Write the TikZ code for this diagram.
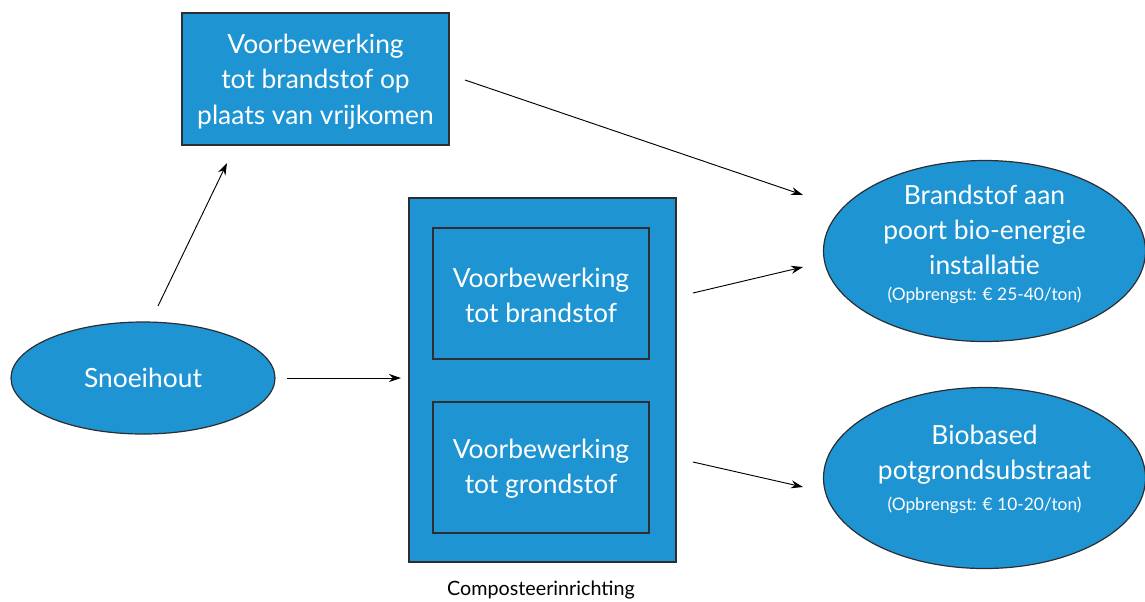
\documentclass[tikz,border=0pt]{standalone}
\usepackage{fontspec}
\setmainfont{Lato}
\usetikzlibrary{shapes.geometric,arrows.meta}
\definecolor{fillblue}{RGB}{30,148,210}
\definecolor{edge}{RGB}{45,45,50}
\begin{document}
\begin{tikzpicture}[x=0.75pt,y=-0.75pt,
  blk/.style={draw=edge,line width=1pt,fill=fillblue},
  ell/.style={draw=edge,line width=0.9pt,fill=fillblue,ellipse,inner sep=0pt},
  lbl/.style={text=white,align=center,font=\fontsize{19.8}{26.5}\selectfont},
  small/.style={text=white,font=\fontsize{13}{14}\selectfont},
  arr/.style={draw=black,line width=0.7pt,-{Stealth[length=9pt,width=6pt]}}]
\useasboundingbox (0,0) rectangle (1145,601);
% top box
\node[blk,minimum width=267*0.75pt,minimum height=132*0.75pt] (top) at (315.5,79) {};
\node[lbl] at ([yshift=-2pt]top.center) {Voorbewerking\\tot brandstof op\\plaats van vrijkomen};
% Snoeihout
\node[ell,minimum width=264*0.75pt,minimum height=112*0.75pt] (snoei) at (143,378) {};
\node[lbl] at (snoei.center) {Snoeihout};
% big container
\node[blk,minimum width=267*0.75pt,minimum height=364*0.75pt] (comp) at (542.5,380) {};
\node[blk,minimum width=216*0.75pt,minimum height=131*0.75pt] (brand) at (541,293.5) {};
\node[lbl] at ([yshift=-1.5pt]brand.center) {Voorbewerking\\tot brandstof};
\node[blk,minimum width=216*0.75pt,minimum height=131*0.75pt] (grond) at (541,467.5) {};
\node[lbl] at ([yshift=-1pt]grond.center) {Voorbewerking\\tot grondstof};
\node[font=\fontsize{14.8}{16}\selectfont] (complbl) at (541,590) {Composteerinrichting};
% right ellipses
\node[ell,minimum width=322*0.75pt,minimum height=181*0.75pt] (energie) at (984.5,251) {};
\node[lbl] (etext) at (984.5,230) {Brandstof aan\\poort bio-energie\\installatie};
\node[small] at (984.5,295) {(Opbrengst: € 25-40/ton)};
\node[ell,minimum width=322*0.75pt,minimum height=181*0.75pt] (pot) at (984.5,478) {};
\node[lbl] (ptext) at (984.5,455) {Biobased\\potgrondsubstraat};
\node[small] at (984.5,505) {(Opbrengst: € 10-20/ton)};
% arrows
\coordinate (a1s) at (158,306); \coordinate (a1e) at (227,163);
\draw[arr] (a1s) -- (a1e);
\coordinate (a2s) at (287,378); \coordinate (a2e) at (401,378);
\draw[arr] (a2s) -- (a2e);
\coordinate (a3s) at (465,80); \coordinate (a3e) at (803,195);
\draw[arr] (a3s) -- (a3e);
\coordinate (a4s) at (693,293); \coordinate (a4e) at (803,267);
\draw[arr] (a4s) -- (a4e);
\coordinate (a5s) at (693,462); \coordinate (a5e) at (803,487);
\draw[arr] (a5s) -- (a5e);
\end{tikzpicture}
\end{document}
